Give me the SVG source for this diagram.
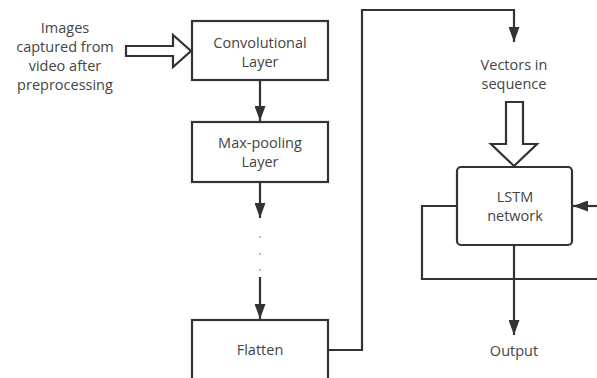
<svg xmlns="http://www.w3.org/2000/svg" width="597" height="378" viewBox="0 0 597 378">
<style>
.box{fill:#fff;stroke:#333;stroke-width:2.2}
.ln{fill:none;stroke:#333;stroke-width:2.2}
.hol{fill:#fff;stroke:#333;stroke-width:2.2;stroke-linejoin:miter}
text{font-family:"Open Sans","Noto Sans",sans-serif;font-size:14.5px;fill:#444;text-anchor:middle}
</style>
<defs>
<marker id="ah" viewBox="0 0 10 10" refX="10" refY="5" markerWidth="15" markerHeight="11" markerUnits="userSpaceOnUse" orient="auto" preserveAspectRatio="none">
<path d="M0,0 L10,5 L0,10 Z" fill="#333"/>
</marker>
</defs>
<rect width="597" height="378" fill="#fff"/>
<g id="input">
<text x="65" y="33">Images</text>
<text x="65" y="52">captured from</text>
<text x="65" y="71">video after</text>
<text x="65" y="90">preprocessing</text>
</g>
<g id="conv">
<rect class="box" x="192" y="21" width="136" height="59"/>
<text x="260" y="48">Convolutional</text>
<text x="260" y="67">Layer</text>
</g>
<g id="maxpool">
<rect class="box" x="192" y="122" width="136" height="60"/>
<text x="260" y="148">Max-pooling</text>
<text x="260" y="167">Layer</text>
</g>
<g id="flatten">
<rect class="box" x="192" y="320" width="136" height="70"/>
<text x="260" y="355">Flatten</text>
</g>
<g id="vectors">
<text x="514" y="70">Vectors in</text>
<text x="514" y="89">sequence</text>
</g>
<g id="lstm">
<rect class="box" x="457" y="167" width="115" height="78" rx="4"/>
<text x="515" y="202">LSTM</text>
<text x="515" y="221">network</text>
</g>
<g id="output">
<text x="514" y="356">Output</text>
</g>
<g id="connectors">
<path class="hol" d="M126,46 L173,46 L173,35 L191,51 L173,67 L173,56 L126,56 Z"/>
<path class="hol" d="M506,102 L523,102 L523,144 L537,144 L514,166 L491,144 L506,144 Z"/>
<line class="ln" x1="260" y1="80" x2="260" y2="121" marker-end="url(#ah)"/>
<line class="ln" x1="260" y1="182" x2="260" y2="218" marker-end="url(#ah)"/>
<g fill="#666">
<circle cx="260" cy="237" r="0.8"/>
<circle cx="260" cy="254" r="0.8"/>
<circle cx="260" cy="270" r="0.8"/>
</g>
<line class="ln" x1="260" y1="277" x2="260" y2="319" marker-end="url(#ah)"/>
<polyline class="ln" points="328,350 362,350 362,10 514,10 514,42" marker-end="url(#ah)"/>
<polyline class="ln" points="457,206 422,206 422,279 597,279"/>
<line class="ln" x1="597" y1="206" x2="573" y2="206" marker-end="url(#ah)"/>
<line class="ln" x1="514" y1="245" x2="514" y2="335" marker-end="url(#ah)"/>
</g>
</svg>
